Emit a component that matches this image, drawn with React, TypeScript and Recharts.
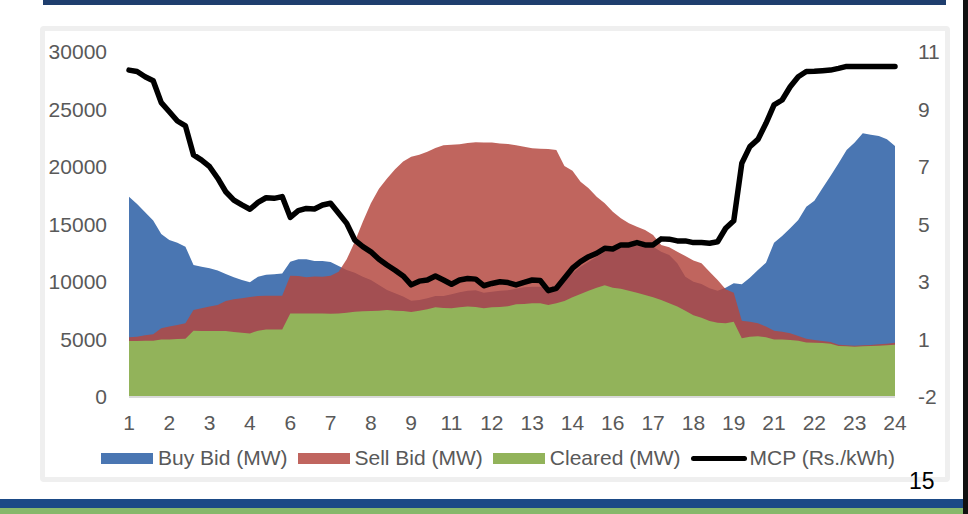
import React from "react";
import { Area, ComposedChart, Line, XAxis, YAxis } from "recharts";

// 96 fifteen-minute blocks, labelled by hour
const hours = [
  1, 1, 1, 1, 2, 2, 2, 2, 3, 3, 3, 3, 4, 4, 4, 4, 5, 5, 5, 5, 6, 6, 6, 6,
  7, 7, 7, 7, 8, 8, 8, 8, 9, 9, 9, 9, 10, 10, 10, 10, 11, 11, 11, 11, 12, 12, 12, 12,
  13, 13, 13, 13, 14, 14, 14, 14, 15, 15, 15, 15, 16, 16, 16, 16, 17, 17, 17, 17, 18, 18, 18, 18,
  19, 19, 19, 19, 20, 20, 20, 20, 21, 21, 21, 21, 22, 22, 22, 22, 23, 23, 23, 23, 24, 24, 24, 24,
];

const buyBid = [
  17420, 16780, 16060, 15340, 14170, 13650, 13420, 13070, 11480, 11330, 11190, 10990,
  10700, 10410, 10170, 9970, 10460, 10640, 10670, 10730, 11770, 11970, 11970, 11830,
  11830, 11740, 11390, 11040, 10810, 10460, 10170, 9740, 9300, 9020, 8730, 8380,
  8440, 8580, 8780, 8780, 8930, 9100, 9250, 9280, 9070, 9160, 9240, 9280,
  9420, 9540, 9590, 9590, 9450, 9740, 10170, 10760, 11330, 11770, 12200, 12640,
  12840, 13020, 13070, 13130, 13020, 13070, 12640, 12350, 11620, 10460, 10030, 9830,
  9450, 9250, 9500, 9900, 9800, 10380, 11040, 11680, 13420, 14000, 14670, 15390,
  16550, 17070, 18150, 19220, 20320, 21480, 22120, 22930, 22810, 22700, 22410, 21830,
];

const sellBid = [
  5190, 5250, 5360, 5450, 5970, 6120, 6260, 6410, 7570, 7710, 7860, 8000,
  8350, 8490, 8580, 8700, 8780, 8810, 8810, 8810, 10550, 10520, 10410, 10470,
  10460, 10550, 10900, 11970, 13510, 15250, 16840, 18100, 19000, 19800, 20470, 20900,
  21070, 21330, 21650, 21890, 21940, 21970, 22090, 22150, 22120, 22120, 22050, 22000,
  21890, 21770, 21620, 21590, 21570, 21480, 20090, 19680, 18720, 18150, 17420, 16840,
  16110, 15540, 15100, 14810, 14520, 14090, 13220, 13020, 12640, 12260, 11860, 11620,
  10900, 10170, 9360, 9070, 6640, 6550, 6410, 6120, 5770, 5680, 5540, 5300,
  5070, 4960, 4870, 4780, 4550, 4490, 4460, 4490, 4520, 4580, 4640, 4720,
];

const cleared = [
  4870, 4870, 4900, 4900, 5010, 5010, 5040, 5070, 5770, 5740, 5740, 5740,
  5740, 5650, 5590, 5530, 5770, 5880, 5880, 5880, 7270, 7270, 7270, 7270,
  7270, 7240, 7270, 7330, 7420, 7450, 7480, 7510, 7570, 7510, 7480, 7390,
  7510, 7620, 7800, 7740, 7710, 7800, 7860, 7830, 7710, 7800, 7830, 7890,
  8060, 8090, 8150, 8150, 8000, 8150, 8350, 8670, 8960, 9250, 9510, 9710,
  9510, 9420, 9250, 9070, 8870, 8670, 8440, 8150, 7860, 7510, 7100, 6900,
  6610, 6460, 6410, 6550, 5100, 5250, 5280, 5190, 5010, 4990, 4960, 4900,
  4750, 4720, 4700, 4640, 4430, 4410, 4380, 4410, 4430, 4460, 4490, 4550,
];

const mcp = [
  9.87, 9.82, 9.64, 9.5, 8.74, 8.42, 8.1, 7.93, 6.92, 6.74, 6.51, 6.11,
  5.64, 5.35, 5.18, 5.03, 5.27, 5.43, 5.41, 5.47, 4.75, 4.98, 5.06, 5.04,
  5.18, 5.24, 4.89, 4.54, 3.96, 3.73, 3.55, 3.29, 3.09, 2.91, 2.71, 2.4,
  2.53, 2.57, 2.71, 2.57, 2.42, 2.57, 2.62, 2.6, 2.37, 2.45, 2.51, 2.48,
  2.4, 2.49, 2.57, 2.55, 2.2, 2.28, 2.63, 2.98, 3.21, 3.38, 3.5, 3.67,
  3.65, 3.79, 3.79, 3.87, 3.79, 3.79, 4.0, 3.99, 3.93, 3.93, 3.87, 3.87,
  3.85, 3.9, 4.37, 4.63, 6.63, 7.21, 7.46, 8.02, 8.66, 8.83, 9.29, 9.64,
  9.82, 9.83, 9.85, 9.87, 9.93, 10.0, 10.0, 10.0, 10.0, 10.0, 10.0, 10.0,
];

const mwTicks = [0, 5000, 10000, 15000, 20000, 25000, 30000];
const priceTicks = [-1.5, 0.5, 2.5, 4.5, 6.5, 8.5, 10.5];

// block index keeps the 96 points distinct on the category axis
const data = hours.map((hour, i) => ({
  block: i,
  hour,
  buy: buyBid[i],
  sell: sellBid[i],
  cleared: cleared[i],
  mcp: mcp[i],
}));

const FONT = '"Liberation Sans", Arial, sans-serif';
const TEXT = "#595959";
const BLUE = "#4A76B2";
const GREEN = "#92B35A";

// Excel-style rounding (half away from zero) for the price axis
const roundLabel = (v: number) => String(Math.sign(v) * Math.round(Math.abs(v)));

const legendItems = [
  { label: "Buy Bid (MW)", color: BLUE, kind: "box" },
  { label: "Sell Bid (MW)", color: "#C0655F", kind: "box" },
  { label: "Cleared (MW)", color: GREEN, kind: "box" },
  { label: "MCP (Rs./kWh)", color: "#000", kind: "line" },
];

export default function App() {
  return (
    <div
      style={{
        position: "absolute",
        left: 0,
        top: 0,
        width: 968,
        height: 514,
        background: "#fff",
        overflow: "hidden",
        fontFamily: FONT,
      }}
    >
      <div style={{ position: "absolute", left: 43, top: 0, width: 903, height: 5, background: "#1F3E6E" }} />
      <div
        style={{
          position: "absolute",
          left: 40,
          top: 26,
          width: 910,
          height: 456,
          border: "5px solid #EFEFEF",
          borderRadius: 4,
          boxSizing: "border-box",
        }}
      />

      <div style={{ position: "absolute", left: 0, top: 0 }}>
        <ComposedChart width={968} height={437} data={data} margin={{ top: 52, right: 0, bottom: 0, left: 0 }}>
          <XAxis
            dataKey="block"
            scale="point"
            interval={4}
            tickFormatter={(v: number) => String(hours[v])}
            padding={{ left: 0, right: 0 }}
            height={40}
            tickSize={0}
            tickMargin={18}
            tickLine={false}
            axisLine={{ stroke: "#D9D9D9", strokeWidth: 2 }}
            tick={{ fill: TEXT, fontSize: 21, fontFamily: FONT }}
          />
          <YAxis
            yAxisId="mw"
            orientation="left"
            width={129}
            domain={[0, 30000]}
            ticks={mwTicks}
            tickSize={0}
            tickMargin={22}
            tickLine={false}
            axisLine={false}
            tick={{ fill: TEXT, fontSize: 21, fontFamily: FONT }}
          />
          <YAxis
            yAxisId="price"
            orientation="right"
            width={73}
            type="number"
            domain={[-1.5, 10.5]}
            ticks={priceTicks}
            tickFormatter={roundLabel}
            tickSize={0}
            tickMargin={23}
            tickLine={false}
            axisLine={false}
            tick={{ fill: TEXT, fontSize: 21, fontFamily: FONT }}
          />

          <Area
            yAxisId="mw"
            dataKey="buy"
            type="linear"
            stroke="none"
            fill={BLUE}
            fillOpacity={1}
            isAnimationActive={false}
          />
          <Area
            yAxisId="mw"
            dataKey="sell"
            type="linear"
            stroke="none"
            fill="#B4483F"
            fillOpacity={0.84}
            isAnimationActive={false}
          />
          <Area
            yAxisId="mw"
            dataKey="cleared"
            type="linear"
            stroke="none"
            fill={GREEN}
            fillOpacity={1}
            isAnimationActive={false}
          />
          <Line
            yAxisId="price"
            dataKey="mcp"
            type="linear"
            stroke="#000"
            strokeWidth={5.5}
            strokeLinejoin="round"
            strokeLinecap="round"
            dot={false}
            isAnimationActive={false}
          />
        </ComposedChart>
      </div>

      <div
        style={{
          position: "absolute",
          left: 101,
          top: 446,
          height: 24,
          display: "flex",
          alignItems: "center",
          color: TEXT,
          fontSize: 21,
          lineHeight: "24px",
          whiteSpace: "nowrap",
        }}
      >
        {legendItems.map((item) => (
          <div key={item.label} style={{ display: "flex", alignItems: "center", marginRight: 10 }}>
            <div
              style={{
                width: item.kind === "line" ? 56 : 52,
                height: item.kind === "line" ? 5 : 11,
                background: item.color,
                borderRadius: item.kind === "line" ? 3 : 0,
                marginRight: item.kind === "line" ? 3 : 5,
              }}
            />
            <span>{item.label}</span>
          </div>
        ))}
      </div>

      <div style={{ position: "absolute", left: 909, top: 470, fontSize: 23, lineHeight: "23px", color: "#000" }}>
        15
      </div>

      <div style={{ position: "absolute", left: 0, top: 499, width: 968, height: 9, background: "#1B4A86" }} />
      <div style={{ position: "absolute", left: 0, top: 508, width: 968, height: 6, background: "#86B86B" }} />
      <div style={{ position: "absolute", left: 963, top: 0, width: 5, height: 514, background: "#111" }} />
    </div>
  );
}
